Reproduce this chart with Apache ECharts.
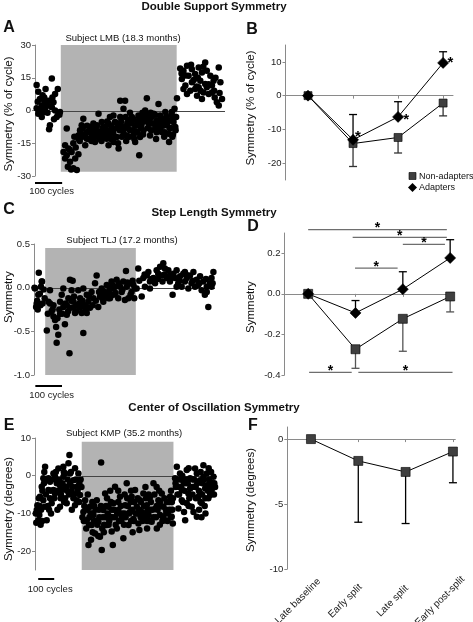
<!DOCTYPE html>
<html><head><meta charset="utf-8">
<script src="https://cdn.jsdelivr.net/npm/echarts@6/dist/echarts.min.js"></script>
<style>html,body{margin:0;padding:0;background:#fff}#c{width:473px;height:622px}</style>
</head><body><div id="c"></div>
<script>
// ---------- DATA ----------
// Panel A: double support symmetry (% of cycle) vs cycle number, subject LMB
const aBaseline = [[6,11.7],[12,8.6],[39,9.8],[62,14.7],[84,9.8],[74,7.6],[18,5.3],[34,6],[49,4.5],[6,1],[25,2.3],[43,3],[68,3.8],[25,-3],[12,-1.5],[55,-6.8],[52,-8.6],[80,-3],[86,-1.5],[92,-0.7],[37,0.8],[62,1.5],[31,-0.7],[74,0],[64,6],[10,4],[28,7],[46,-1],[58,2],[70,-4],[90,-2],[22,0.5],[35,4]];
const aSplit = [[111,-15.9],[105,-19],[123,-17.4],[117,-20.5],[135,-19],[111,-22],[129,-23.5],[148,-22],[121,-25.8],[141,-26.5],[154,-27.3],[133,-27],[117,-8.3],[141,-15],[160,-11.4],[166,-9],[178,-3.8],[185,-15.9],[191,-12.9],[203,-7.6],[209,-11.4],[215,-9],[221,-14.4],[228,-6.8],[234,-12.1],[240,-9.8],[246,-5.3],[252,-11.4],[258,-7.6],[264,-12.9],[271,-6],[277,-10.6],[283,-8.3],[289,-14.4],[295,-5.3],[301,-12.1],[308,-17.4],[314,-3],[320,-7.6],[314,4.5],[332,4.5],[326,0.8],[338,-11.4],[344,-4.5],[350,-9],[357,-3],[363,-11.4],[369,-6.8],[375,-9.8],[381,-2.3],[384,-20.5],[387,-12.1],[394,-5.3],[400,-9],[406,0],[412,5.6],[418,-3.8],[424,-11.4],[431,-6],[437,-1.5],[443,-8.3],[449,-4.5],[455,3],[461,-2.3],[467,-9.8],[474,-3.8],[480,-0.7],[486,-6.8],[492,-10.6],[494,-14.4],[498,-4.5],[504,-0.7],[510,-5.3],[517,-7.6],[523,5.6],[514,0.8],[332,-7.6],[289,-2.3],[234,-1.5],[172,-6.8],[197,-9.8],[221,-9.8],[271,-15.9],[369,-14.4],[150,-17],[160,-20],[128,-18],[200,-13],[215,-6],[245,-14],[260,-10],[300,-8],[340,-6],[360,-9],[390,-8],[420,-6],[450,-7],[470,-5],[500,-8],[520,-3],[508,-11],[430,-3],[400,-3],[380,-5],[350,-1],[320,-12],[280,-13],[250,-9],[230,-10],[190,-10],[175,-12],[165,-14],[145,-12],
  [160,-13],[168,-10],[176,-8],[184,-11],[192,-7],[200,-10],[208,-14],[216,-12],[224,-8],[232,-11],[240,-13],[248,-8],[256,-12],[264,-9],[272,-11],[280,-7],[288,-10],[296,-12],[304,-6],[312,-9],[318,-5],[326,-10],[334,-3],[342,-8],[348,-12],[356,-6],[364,-4],[372,-7],[378,-10],[386,-3],[392,-7],[398,-11],[404,-5],[410,-2],[416,-8],[422,-4],[428,-9],[436,-6],[442,-2],[448,-10],[454,-6],[460,-8],[466,-4],[472,-7],[478,-10],[484,-3],[490,-5],[496,-8],[502,-2],[512,-3],[518,-9],[506,-12],[446,-13],[476,-12],[426,-1],[396,-1],[366,-13],[336,-14],[306,-15],[276,-3],[266,-5]];
const aPost = [[535,19.2],[547,18.2],[560,20.5],[578,18.9],[590,16.7],[603,19.7],[615,17.4],[627,22],[633,18.2],[646,15.9],[658,13.6],[677,19.7],[683,12.9],[541,14.4],[554,11.4],[566,15.9],[578,12.9],[590,9.8],[603,10.6],[609,13.6],[621,8.3],[633,10.6],[640,7.6],[652,8.3],[662,6],[670,3.8],[677,2.3],[689,5.3],[560,7.6],[572,9.1],[597,6.8],[615,5.3],[627,12.1],[652,11.4],[547,9.8],[540,17],[555,16],[585,14],[600,15],[620,20],[640,12],[660,9],[680,8],[665,15],[595,11],[610,9],[575,21]];
const aSplitRange = [95, 522];

// Panel C: step length symmetry vs cycle, subject TLJ
const cBaseline = [[2,0],[8,-0.22],[12,-0.15],[18,0.17],[22,-0.07],[26,0.01],[30,0.07],[32,-0.18],[36,-0.02],[14,-0.25],[24,-0.2],[40,-0.12],[4,-0.01],[29,0.07],[16,-0.08],[10,-0.18]];
const cSplit = [[48,-0.49],[54,-0.16],[60,-0.03],[66,-0.27],[73,-0.33],[79,-0.37],[85,-0.63],[91,-0.54],[98,-0.3],[104,-0.08],[110,-0.22],[116,-0.42],[123,-0.31],[129,-0.12],[133,-0.75],[135,-0.23],[141,-0.03],[145,0.08],[148,-0.16],[154,-0.29],[160,-0.2],[166,-0.03],[173,-0.12],[179,-0.29],[185,-0.52],[191,-0.2],[198,-0.08],[204,-0.16],[210,-0.23],[216,-0.05],[223,-0.12],[229,0.05],[235,0.14],[241,-0.22],[248,-0.1],[254,-0.01],[260,-0.16],[266,-0.05],[273,0.03],[279,-0.12],[285,-0.01],[291,0.07],[298,-0.08],[304,0.01],[310,0.09],[316,-0.12],[323,0.01],[329,-0.05],[335,0.07],[341,-0.14],[345,0.19],[348,0.01],[354,-0.12],[360,0.05],[366,-0.05],[373,0.03],[379,-0.01],[60,-0.18],[73,-0.2],[98,-0.16],[123,-0.2],[148,-0.23],[173,-0.23],[198,-0.29],[260,-0.08],[298,-0.01],[285,-0.12],[83,-0.45],[185,-0.01],[110,-0.01],[135,0.09],
  [52,-0.3],[70,-0.25],[88,-0.35],[95,-0.25],[106,-0.3],[118,-0.18],[128,-0.27],[140,-0.15],[150,-0.1],[158,-0.27],[170,-0.18],[182,-0.15],[194,-0.25],[206,-0.1],[220,-0.2],[232,-0.15],[244,-0.05],[256,-0.12],[270,-0.1],[282,-0.05],[294,0.03],[306,-0.06],[318,0.05],[332,-0.02],[350,0.06],[362,-0.08],[370,0.08],[376,-0.12]];
const cPost = [[385,-0.01],[391,0.22],[404,-0.1],[410,0.11],[423,0.14],[429,0.18],[435,0.07],[448,0.11],[460,0.2],[466,0.16],[473,0.24],[479,0.14],[485,0.28],[491,0.22],[498,0.11],[504,0.2],[510,0.07],[520,-0.08],[523,0.16],[529,0.11],[535,0.2],[541,0.05],[548,0.13],[554,0.01],[560,0.16],[566,0.07],[573,0.11],[579,-0.01],[585,0.14],[591,0.05],[598,0.18],[604,0.01],[610,0.09],[616,0.03],[623,0.13],[629,-0.03],[635,0.07],[641,-0.08],[648,0.01],[654,-0.22],[660,0.05],[666,0.11],[673,0.18],[666,0.01],[648,-0.05],[435,-0.01],[416,0.01],[454,0.05],[482,0.07],[510,0.14],[535,0.01],[566,0.18],
  [395,0.08],[415,0.15],[440,0.1],[465,0.1],[490,0.15],[515,0.12],[545,0.08],[570,0.15],[595,0.08],[620,0.05],[645,0.1],[670,0.05]];
const cSplitRange = [42, 382];

// Panel E: center of oscillation symmetry (degrees) vs cycle, subject KMP
const eBaseline = [[11,-9.1],[21,-11.8],[15,-7.8],[31,-5.6],[42,-2.9],[52,-0.7],[63,2.4],[73,-11.8],[84,-3.8],[94,-1.6],[104,-7.3],[115,0.6],[125,-4.7],[136,-2],[146,1.9],[156,-8.2],[167,-3.8],[177,-0.3],[188,-6],[198,-2.9],[209,3.3],[215,5.5],[219,0.6],[229,-4.2],[240,-1.2],[250,-7.8],[261,-2.9],[271,0.6],[281,-5.1],[27,-10.4],[52,-6.5],[94,-6],[125,-0.3],[156,-2.5],[198,-7.3],[240,-6],[277,-2],[84,-0.7],[177,2.4],[219,-2],[63,-8.2],[115,-3.8],[146,-1.2],[188,0.6],[261,-6.5],[35,-13],[80,-8],[230,-9],[160,-6],[200,-4],[290,-3],
  [5,-10],[8,-12.5],[18,-8],[24,-6],[38,-9],[46,-4],[56,-2],[68,-5],[76,-1],[88,-9],[98,-4],[108,-1],[120,-6],[130,1],[140,-4],[150,-1],[162,-5],[172,-2],[182,-7],[192,-3],[204,-1],[212,-5],[224,1],[234,-3],[244,-5],[255,-1],[266,-4],[276,-7],[285,-1],[58,1],[100,-10],[140,-9],[180,1],[250,2],[45,-12],[30,-8]];
const eSplit = [[302,-9.6],[313,-6.5],[323,-11.8],[334,-18.4],[344,-8.2],[354,-13.1],[365,-10.4],[375,-15.3],[386,-6.5],[396,-12.2],[406,-16.2],[413,3.5],[417,-19.7],[427,-9.1],[438,-4.7],[448,-13.1],[459,-8.2],[469,-10.9],[479,-14.8],[486,-18.4],[490,-7.3],[500,-2.9],[511,-14],[521,-9.1],[531,-5.6],[542,-10.9],[552,-16.6],[563,-7.8],[573,-2],[584,-13.1],[594,-9.6],[604,-5.6],[615,-11.5],[625,-3.8],[636,-8.2],[646,-12.7],[652,-14.4],[656,-6.5],[667,-9.6],[677,-4.7],[688,-11.3],[698,-7.8],[709,-10.4],[719,-5.6],[729,-12.2],[740,-2],[750,-8.8],[761,-14],[771,-6.5],[781,-10.4],[792,-4.7],[802,-8.2],[813,-11.8],[823,-7],[833,-9.6],[844,-5.6],[854,-10.9],[861,-12.7],[305,-12],[320,-14],[340,-11],[360,-10],[380,-12],[400,-9],[420,-14],[440,-11],[460,-13],[480,-9],[500,-11],[520,-7],[540,-12],[560,-10],[580,-8],[600,-12],[620,-7],[640,-10],[660,-11],[680,-8],[700,-12],[720,-9],[740,-11],[760,-8],[780,-7],[800,-11],[820,-10],[840,-9],[855,-7],[330,-5],[370,-8],[450,-6],[520,-4],[690,-3],[610,-15],[700,-14],[780,-13],
  [296,-11],[308,-8],[318,-12],[328,-9],[338,-13],[348,-10],[358,-7],[368,-12],[378,-9],[390,-13],[402,-11],[412,-8],[424,-11],[432,-13],[444,-8],[454,-10],[464,-12],[474,-7],[484,-11],[494,-9],[504,-13],[514,-10],[526,-12],[536,-8],[546,-10],[556,-13],[566,-11],[576,-6],[588,-10],[598,-7],[608,-9],[618,-12],[630,-10],[642,-6],[650,-9],[662,-7],[672,-12],[684,-10],[694,-6],[704,-9],[714,-12],[724,-7],[734,-9],[746,-5],[756,-11],[766,-9],[776,-4],[786,-8],[796,-12],[808,-6],[818,-9],[828,-12],[838,-7],[848,-11],[858,-9],[862,-6],[850,-4],[760,-3],[710,-5],[600,-4],[560,-5],[470,-4],[360,-15],[395,-16],[430,-15],[350,-17]];
const ePost = [[875,-0.7],[886,2.4],[896,-2.9],[906,0.6],[917,-6.5],[927,-1.6],[931,-9.6],[938,-11.8],[948,1.5],[958,-4.7],[969,-0.7],[979,-8.2],[990,-2.9],[1000,1.9],[1011,-10.9],[1021,-5.6],[1031,-1.2],[1042,-7.3],[1052,2.8],[1063,-3.4],[1073,0.6],[1083,-6],[1094,-1.6],[1104,-3.8],[1115,-0.3],[896,-8.7],[948,-7.3],[990,-9.6],[1031,-4.7],[1073,-2.5],[1011,0.6],[1052,-0.3],[1094,-5.1],[917,-3.8],[969,-3.4],[880,-3],[900,-5],[920,0],[940,-2],[960,-8],[985,-1],[1005,-6],[1025,-9],[1045,-2],[1060,-8],[1080,-4],[1100,1],[1120,-2],
  [878,-2],[890,-5],[904,-1],[914,-3],[924,-7],[934,-4],[944,-1],[954,-2],[964,-6],[974,-3],[984,-5],[994,-1],[1004,-3],[1014,-2],[1024,-4],[1034,-7],[1044,-5],[1054,-1],[1064,-6],[1074,-3],[1086,-1],[1096,-3],[1108,-2],[1118,-5],[1125,-3],[1035,1],[960,2],[1085,2],[1065,-10],[1040,-11]];
const eSplitRange = [292, 865];

// Group means (phases: late baseline, early split, late split, early post-split)
const phases = ['Late baseline', 'Early split', 'Late split', 'Early post-split'];
const groups = ['Non-adapters', 'Adapters'];
const bNonAdapters = [0, -14.2, -12.4, -2.2];
const bNonAdaptersErrLow = [0, -21, -17, -6];
const bAdapters = [0, -13.1, -6.3, 9.7];
const bAdaptersErrHigh = [0, -5.6, -1.8, 13];
const bStars = [[1.11, -11], [2.18, -5.9], [3.16, 11]];

const dNonAdapters = [0, -0.273, -0.123, -0.013];
const dNonAdaptersErrLow = [0, -0.367, -0.283, -0.089];
const dAdapters = [0, -0.094, 0.023, 0.177];
const dAdaptersErrHigh = [0, -0.033, 0.109, 0.267];
const dSigBars = [[0.0, 2.93, 0.317], [0.94, 2.93, 0.278], [2.0, 2.89, 0.244], [0.99, 1.89, 0.127], [0.02, 0.92, -0.387], [1.06, 3.05, -0.387]];

const fAll = [0, -1.68, -2.53, -0.96];
const fAllErrLow = [0, -6.4, -6.5, -3.36];

// Tick labels
const aTicks = [-30, -15, 0, 15, 30];
const bTicks = [-20, -10, 0, 10];
const cTicks = [-1.0, -0.5, 0.0, 0.5];
const dTicks = [-0.4, -0.2, 0.0, 0.2];
const eTicks = [-20, -10, 0, 10];
const fTicks = [-10, -5, 0];

// ---------- CHART ----------
const FONT = '"Liberation Sans", Arial, Helvetica, sans-serif';
const AX = '#8a8a8a';
const chart = echarts.init(document.getElementById('c'), null, {renderer: 'canvas'});

const grids = [
  {left: 35, top: 45, width: 190, height: 131},     // A
  {left: 285.5, top: 45, width: 167.5, height: 135},// B
  {left: 34, top: 244, width: 181, height: 131},    // C
  {left: 284.5, top: 233, width: 168.5, height: 142},// D
  {left: 35, top: 438, width: 182, height: 132},    // E
  {left: 287.3, top: 427, width: 168, height: 142}  // F
];

function yAx(gi, min, max, ticks, dec) {
  return {
    gridIndex: gi, type: 'value', min: min, max: max,
    axisLine: {show: true, onZero: false, lineStyle: {color: AX, width: 1}},
    axisTick: {show: true, length: 3, customValues: ticks, lineStyle: {color: AX}},
    axisLabel: {customValues: ticks, fontSize: 9.5, color: '#222', fontFamily: FONT, margin: 4,
      formatter: v => dec ? v.toFixed(dec) : String(v)},
    splitLine: {show: false}
  };
}
function xScatter(gi, max) {
  return {gridIndex: gi, type: 'value', min: 0, max: max, show: false, splitLine: {show: false}};
}
function xCat(gi, max) {
  return {
    gridIndex: gi, type: 'value', min: -0.5, max: max,
    axisLine: {show: true, onZero: true, lineStyle: {color: AX, width: 1}},
    axisTick: {show: true, length: 3, customValues: [0, 1, 2, 3], lineStyle: {color: AX}},
    axisLabel: {show: false}, splitLine: {show: false}
  };
}

const xAxis = [xScatter(0, 700), xCat(1, 3.22), xScatter(2, 679), xCat(3, 3.06), xScatter(4, 1137), xCat(5, 3.05)];
const yAxis = [yAx(0, -30, 30, aTicks, 0), yAx(1, -25, 15, bTicks, 0), yAx(2, -1.0, 0.5, cTicks, 1),
               yAx(3, -0.4, 0.3, dTicks, 1), yAx(4, -25, 10, eTicks, 0), yAx(5, -10, 0.93, fTicks, 0)];

const series = [];
function grayRect(gi, range, y0, y1) {
  series.push({type: 'custom', xAxisIndex: gi, yAxisIndex: gi, clip: false, silent: true, z: 1,
    data: [[range[0], range[1], y0, y1]],
    renderItem: (p, api) => {
      const a = api.coord([api.value(0), api.value(2)]), b = api.coord([api.value(1), api.value(3)]);
      return {type: 'rect', shape: {x: a[0], y: b[1], width: b[0] - a[0], height: a[1] - b[1]}, style: {fill: '#b3b3b3'}};
    }});
}
function zeroLine(gi, x0, x1) {
  series.push({type: 'custom', xAxisIndex: gi, yAxisIndex: gi, clip: false, silent: true, z: 2,
    data: [[x0, x1]],
    renderItem: (p, api) => {
      const a = api.coord([api.value(0), 0]), b = api.coord([api.value(1), 0]);
      return {type: 'line', shape: {x1: a[0], y1: Math.round(a[1]) + 0.5, x2: b[0], y2: Math.round(a[1]) + 0.5}, style: {stroke: '#444', lineWidth: 1}};
    }});
}
function dots(gi, data) {
  series.push({type: 'scatter', xAxisIndex: gi, yAxisIndex: gi, data: data, symbolSize: 6.5, silent: true, z: 3,
    itemStyle: {color: '#000', opacity: 1}});
}
function scaleBar(gi, x0, x1, ymin, dyBar, dyText, dxText) {
  series.push({type: 'custom', xAxisIndex: gi, yAxisIndex: gi, clip: false, silent: true, z: 3,
    data: [[x0, x1]],
    renderItem: (p, api) => {
      const a = api.coord([api.value(0), ymin]), b = api.coord([api.value(1), ymin]);
      const y = a[1] + dyBar;
      return {type: 'group', children: [
        {type: 'line', shape: {x1: a[0], y1: y, x2: b[0], y2: y}, style: {stroke: '#000', lineWidth: 2}},
        {type: 'text', x: (a[0] + b[0]) / 2 + dxText, y: a[1] + dyText,
          style: {text: '100 cycles', font: '9.5px ' + FONT, fill: '#222', align: 'center', verticalAlign: 'middle'}}
      ]};
    }});
}
function errBars(gi, means, ends, color) {
  const data = means.map((m, i) => [i, m, ends[i]]).filter(d => d[1] !== d[2]);
  series.push({type: 'custom', xAxisIndex: gi, yAxisIndex: gi, clip: false, silent: true, z: 3,
    data: data,
    renderItem: (p, api) => {
      const a = api.coord([api.value(0), api.value(1)]), b = api.coord([api.value(0), api.value(2)]);
      return {type: 'group', children: [
        {type: 'line', shape: {x1: a[0], y1: a[1], x2: b[0], y2: b[1]}, style: {stroke: color, lineWidth: 1.3}},
        {type: 'line', shape: {x1: b[0] - 4, y1: b[1], x2: b[0] + 4, y2: b[1]}, style: {stroke: color, lineWidth: 1.3}}
      ]};
    }});
}
function meanLine(gi, name, vals, symbol, size, fill) {
  series.push({type: 'line', name: name, xAxisIndex: gi, yAxisIndex: gi, z: 5, silent: true,
    data: vals.map((v, i) => [i, v]), symbol: symbol, symbolSize: size, showAllSymbol: true,
    lineStyle: {color: '#000', width: 1},
    itemStyle: {color: fill, borderColor: '#000', borderWidth: 0.6, opacity: 1}});
}
function stars(gi, pts) {
  series.push({type: 'custom', xAxisIndex: gi, yAxisIndex: gi, clip: false, silent: true, z: 6,
    data: pts,
    renderItem: (p, api) => {
      const a = api.coord([api.value(0), api.value(1)]);
      return {type: 'text', x: a[0], y: a[1] + 4,
        style: {text: '*', font: 'bold 15px ' + FONT, fill: '#000', align: 'center', verticalAlign: 'middle'}};
    }});
}
function sigBars(gi, bars) {
  series.push({type: 'custom', xAxisIndex: gi, yAxisIndex: gi, clip: false, silent: true, z: 6,
    data: bars,
    renderItem: (p, api) => {
      const a = api.coord([api.value(0), api.value(2)]), b = api.coord([api.value(1), api.value(2)]);
      return {type: 'group', children: [
        {type: 'line', shape: {x1: a[0], y1: a[1], x2: b[0], y2: b[1]}, style: {stroke: '#6e6e6e', lineWidth: 1.2}},
        {type: 'text', x: (a[0] + b[0]) / 2, y: a[1] - 1,
          style: {text: '*', font: 'bold 14px ' + FONT, fill: '#000', align: 'center', verticalAlign: 'middle'}}
      ]};
    }});
}
function catLabels(gi, names, ymin) {
  series.push({type: 'custom', xAxisIndex: gi, yAxisIndex: gi, clip: false, silent: true, z: 6,
    data: names.map((n, i) => [i, ymin]),
    renderItem: (p, api) => {
      const a = api.coord([api.value(0), api.value(1)]);
      return {type: 'text', x: a[0] - 13, y: a[1] + 32, rotation: Math.PI / 4,
        style: {text: names[p.dataIndex], font: '10px ' + FONT, fill: '#222', align: 'center', verticalAlign: 'middle'}};
    }});
}

// Panel A
grayRect(0, aSplitRange, -28, 30);
zeroLine(0, 0, 700);
dots(0, aBaseline); dots(0, aSplit); dots(0, aPost);
scaleBar(0, 0, 100, -30, 7, 15, 3);
// Panel B
errBars(1, bNonAdapters, bNonAdaptersErrLow, '#333');
errBars(1, bAdapters, bAdaptersErrHigh, '#000');
meanLine(1, groups[0], bNonAdapters, 'rect', 8, '#3f3f3f');
meanLine(1, groups[1], bAdapters, 'diamond', 11, '#000');
stars(1, bStars);
// Panel C
grayRect(2, cSplitRange, -1.0, 0.455);
zeroLine(2, 0, 679);
dots(2, cBaseline); dots(2, cSplit); dots(2, cPost);
scaleBar(2, 5, 105, -1.0, 11, 20, 3);
// Panel D
errBars(3, dNonAdapters, dNonAdaptersErrLow, '#555');
errBars(3, dAdapters, dAdaptersErrHigh, '#000');
meanLine(3, groups[0], dNonAdapters, 'rect', 9, '#3f3f3f');
meanLine(3, groups[1], dAdapters, 'diamond', 11, '#000');
sigBars(3, dSigBars);
// Panel E
grayRect(4, eSplitRange, -25, 9);
zeroLine(4, eSplitRange[0], 1137);
dots(4, eBaseline); dots(4, eSplit); dots(4, ePost);
scaleBar(4, 20, 120, -25, 9, 19, 4);
// Panel F
errBars(5, fAll, fAllErrLow, '#000');
meanLine(5, 'All', fAll, 'rect', 9, '#3f3f3f');
catLabels(5, phases, -10);

function txt(x, y, s, font, rot, align) {
  return {type: 'text', x: x, y: y, rotation: rot || 0, silent: true,
    style: {text: s, font: font, fill: '#111', align: align || 'center', verticalAlign: 'middle'}};
}
const T = 'bold 11.5px ' + FONT, L = 'bold 16px ' + FONT, N = '11.5px ' + FONT, S = '9.5px ' + FONT, G = '9px ' + FONT;
const graphic = [
  txt(214, 7, 'Double Support Symmetry', T),
  txt(214, 213, 'Step Length Symmetry', T),
  txt(214, 408, 'Center of Oscillation Symmetry', T),
  txt(9, 28, 'A', L), txt(252, 30, 'B', L), txt(9, 210, 'C', L),
  txt(253, 227, 'D', L), txt(9, 426, 'E', L), txt(253, 426, 'F', L),
  txt(123, 38, 'Subject LMB (18.3 months)', S),
  txt(122, 240, 'Subject TLJ (17.2 months)', S),
  txt(124, 433, 'Subject KMP (35.2 months)', S),
  txt(9, 114, 'Symmetry (% of cycle)', N, Math.PI / 2),
  txt(251, 108, 'Symmetry (% of cycle)', N, Math.PI / 2),
  txt(9, 297, 'Symmetry', N, Math.PI / 2),
  txt(251, 307, 'Symmetry', N, Math.PI / 2),
  txt(9, 509, 'Symmetry (degrees)', N, Math.PI / 2),
  txt(251, 500, 'Symmetry (degrees)', N, Math.PI / 2),
  // legend for panel B
  {type: 'rect', silent: true, shape: {x: 409, y: 172.5, width: 7, height: 7}, style: {fill: '#3f3f3f', stroke: '#000', lineWidth: 0.6}},
  {type: 'polygon', silent: true, shape: {points: [[412.5, 183], [417, 187.5], [412.5, 192], [408, 187.5]]}, style: {fill: '#000'}},
  txt(419, 176.5, groups[0], G, 0, 'left'),
  txt(419, 188, groups[1], G, 0, 'left')
];

chart.setOption({
  animation: false,
  backgroundColor: '#fff',
  textStyle: {fontFamily: FONT},
  grid: grids,
  xAxis: xAxis,
  yAxis: yAxis,
  series: series,
  graphic: graphic
});
</script></body></html>
